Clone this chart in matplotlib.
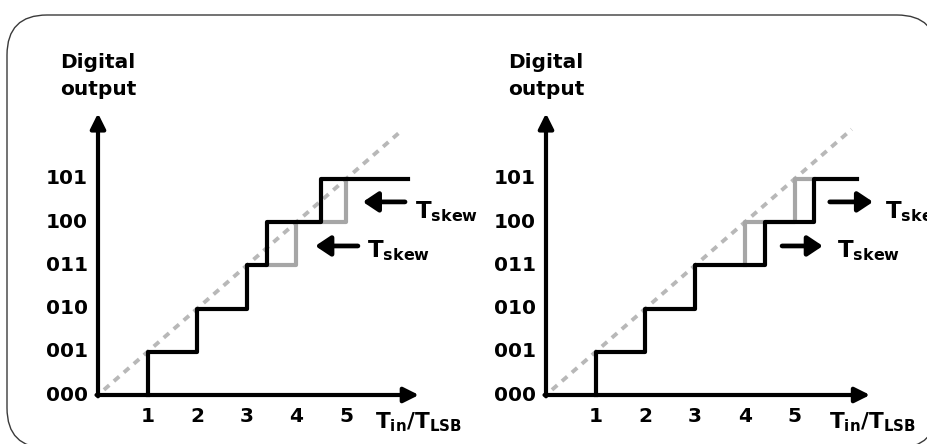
import matplotlib
matplotlib.use("Agg")
import matplotlib.pyplot as plt
from matplotlib.patches import FancyBboxPatch

plt.rcParams['font.family'] = ['DejaVu Sans']
plt.rcParams['font.weight'] = 'bold'
plt.rcParams['mathtext.fontset'] = 'custom'
plt.rcParams['mathtext.rm'] = 'DejaVu Sans:bold'
plt.rcParams['mathtext.it'] = 'DejaVu Sans:bold'
plt.rcParams['mathtext.bf'] = 'DejaVu Sans:bold'

# ---- data ----
level_labels = ['000', '001', '010', '011', '100', '101']
x_ticks = [1, 2, 3, 4, 5]

# left panel: skew shifts transitions earlier
left_black_x = [1, 1, 2, 2, 3, 3, 3.4, 3.4, 4.5, 4.5, 6.25]
left_black_y = [0, 1, 1, 2, 2, 3, 3, 4, 4, 5, 5]
left_gray_x = [3.4, 4, 4, 5, 5]
left_gray_y = [3, 3, 4, 4, 5]

# right panel: skew shifts transitions later
right_black_x = [1, 1, 2, 2, 3, 3, 4.4, 4.4, 5.4, 5.4, 6.25]
right_black_y = [0, 1, 1, 2, 2, 3, 3, 4, 4, 5, 5]
right_gray_x = [4, 4, 5, 5, 5.4]
right_gray_y = [3, 4, 4, 5, 5]

ideal_x = [0.12, 6.15]
ideal_y = [0.12, 6.15]

W, H = 928, 444
fig = plt.figure(figsize=(W / 100, H / 100), dpi=100)

# background frame (pixel coordinates)
bg = fig.add_axes([0, 0, 1, 1])
bg.set_xlim(0, W)
bg.set_ylim(H, 0)
bg.axis('off')
bg.add_patch(FancyBboxPatch((7, 15), 930, 433,
                            boxstyle="round,pad=0,rounding_size=40",
                            fc='white', ec='#3a3a3a', lw=1.0, clip_on=False))

XLIM = (-2.0, 7.6)
YLIM = (-1.3, 8.8)


def make_panel(x0_px, xunit, y0_px=395, yunit=43.2):
    # place axes so that data (0, 0) lands on the given pixel
    left = x0_px + XLIM[0] * xunit
    width = (XLIM[1] - XLIM[0]) * xunit
    bottom = (H - y0_px) + YLIM[0] * yunit
    height = (YLIM[1] - YLIM[0]) * yunit
    ax = fig.add_axes([left / W, bottom / H, width / W, height / H])
    ax.set_xlim(*XLIM)
    ax.set_ylim(*YLIM)
    ax.axis('off')
    return ax


AXIS_HEAD = dict(arrowstyle='-|>,head_length=0.6,head_width=0.3',
                 lw=3, color='black', shrinkA=0, shrinkB=0, mutation_scale=15)
SKEW_HEAD = dict(arrowstyle='-|>,head_length=0.6,head_width=0.4',
                 lw=3.4, color='black', shrinkA=0, shrinkB=0, mutation_scale=15)


def draw_panel(ax, bx, by, gx, gy, x_axis_end, arrows, label_x):
    # ideal transfer line
    ax.plot(ideal_x, ideal_y, color='#b8b8b8', lw=2.8, ls=(0, (1.8, 1.6)),
            zorder=1, solid_capstyle='butt')
    ax.plot(gx, gy, color='#a6a6a6', lw=3, zorder=2)
    ax.plot(bx, by, color='black', lw=3, zorder=3)

    # axes with arrow heads
    ax.annotate('', xy=(0, 6.52), xytext=(0, -0.03), arrowprops=AXIS_HEAD,
                zorder=4)
    ax.annotate('', xy=(x_axis_end, 0), xytext=(-0.03, 0),
                arrowprops=AXIS_HEAD, zorder=4)

    for i, lab in enumerate(level_labels):
        ax.text(-0.2, i, lab, ha='right', va='center', fontsize=14.5,
                fontweight='bold')
    for t in x_ticks:
        ax.text(t, -0.27, str(t), ha='center', va='top', fontsize=14.5,
                fontweight='bold')

    ax.text(0, 7.38, 'Digital\noutput', ha='center', va='center',
            fontsize=14.5, fontweight='bold', linespacing=1.5)
    ax.text(label_x, -0.77, r'$\mathrm{T_{in}/T_{LSB}}$', ha='left',
            va='baseline', fontsize=15.5)

    for tail, head, y, tx, ty in arrows:
        ax.annotate('', xy=(head, y), xytext=(tail, y), arrowprops=SKEW_HEAD)
        ax.text(tx, ty, r'$\mathrm{T_{skew}}$', ha='left', va='baseline',
                fontsize=16.5, clip_on=False)


ax_l = make_panel(98, 49.6)
draw_panel(ax_l, left_black_x, left_black_y, left_gray_x, left_gray_y, 6.47,
           [(6.19, 5.34, 4.47, 6.39, 4.10),
            (5.24, 4.38, 3.45, 5.42, 3.19)],
           5.58)

ax_r = make_panel(546, 49.7)
draw_panel(ax_r, right_black_x, right_black_y, right_gray_x, right_gray_y, 6.52,
           [(5.71, 6.58, 4.47, 6.82, 4.10),
            (4.75, 5.57, 3.45, 5.86, 3.19)],
           5.69)

fig.savefig('out.png', dpi=100)
